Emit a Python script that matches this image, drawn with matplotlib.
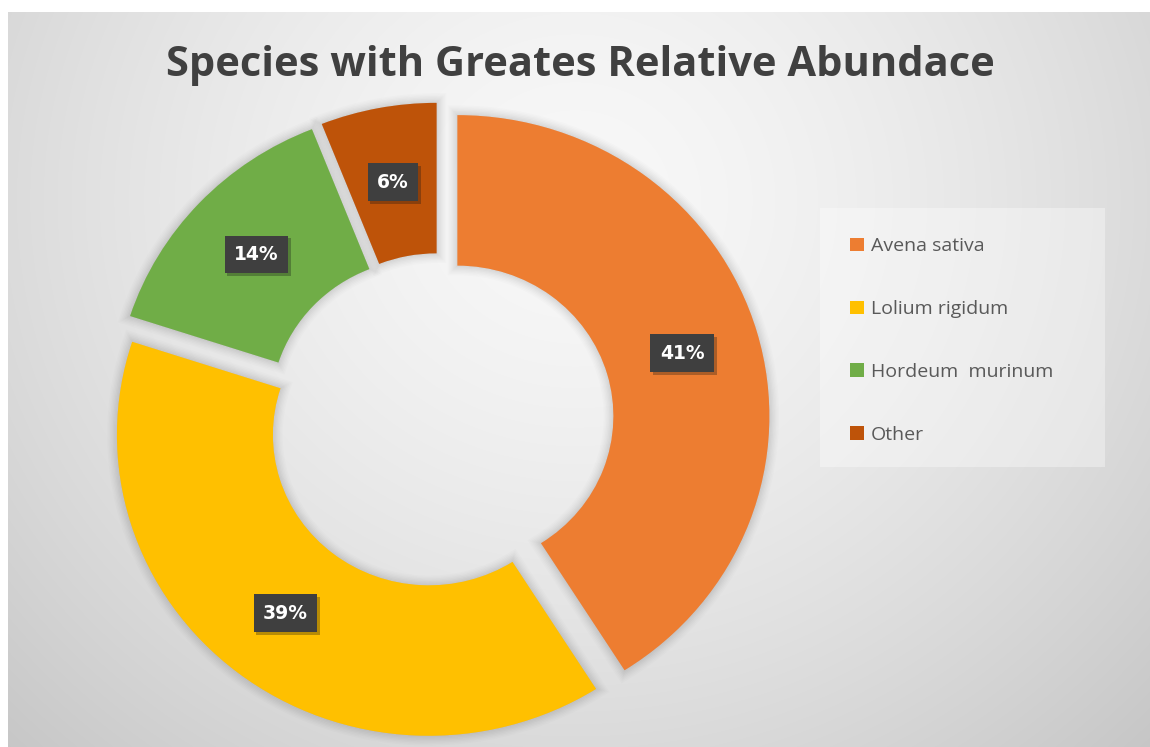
import numpy as np
import matplotlib
matplotlib.use("Agg")
import matplotlib.pyplot as plt
import matplotlib.patheffects as pe
from matplotlib.patches import Rectangle

# Data
species = ["Avena sativa", "Lolium rigidum", "Hordeum  murinum", "Other"]
abundance = [41, 39, 14, 6]
colors = ["#ED7D31", "#FFC000", "#70AD47", "#BE5309"]
title = "Species with Greates Relative Abundace"

W, H = 1150, 747
fig = plt.figure(figsize=(W / 100, H / 100), dpi=100, facecolor="white")

# Chart-area background: soft radial grey gradient
bg = fig.add_axes([8 / W, 0, 1 - 8 / W, 1 - 12 / H], zorder=0)
yy, xx = np.mgrid[12:H, 8:W]
r = np.sqrt(((xx - 575) / 800.0) ** 2 + ((yy - 200) / 750.0) ** 2)
v = (248 - 48 * r ** 1.5) / 255.0
bg.imshow(np.dstack([v, v, v]), aspect="auto", extent=(0, 1, 0, 1), interpolation="bilinear")
bg.set_axis_off()

# Donut axes (pixel scale: 312 px per unit horizontally, 301 vertically)
cx, cy = 440, H - 421
sx, sy = 312, 301
lim = 1.2
ax = fig.add_axes([(cx - lim * sx) / W, (cy - lim * sy) / H, 2 * lim * sx / W, 2 * lim * sy / H], zorder=1)
ax.patch.set_alpha(0)

# soft drop shadow around each ring segment
shadow = [pe.Stroke(linewidth=lw, foreground="#000000", alpha=a)
          for lw, a in [(14, 0.012), (12, 0.012), (10, 0.014), (8, 0.016),
                        (6, 0.018), (4, 0.02), (2, 0.02)]] + [pe.Normal()]

wedges, texts, autotexts = ax.pie(
    abundance, colors=colors, startangle=90, counterclock=False,
    explode=[0.058] * len(abundance), wedgeprops=dict(width=0.5, linewidth=0),
    autopct="%1.0f%%", pctdistance=0.75,
    textprops=dict(color="white", fontsize=13.5, fontweight="bold", family="DejaVu Sans"),
)
for w in wedges:
    w.set_path_effects(shadow)
for t in autotexts:
    t.set_bbox(dict(boxstyle="square,pad=0.5", facecolor="#3F3F3F", edgecolor="none"))
    t.get_bbox_patch().set_path_effects([pe.SimplePatchShadow(offset=(2, -2), alpha=0.3), pe.Normal()])
ax.set_aspect("auto")
ax.set_xlim(-lim, lim)
ax.set_ylim(-lim, lim)
ax.set_axis_off()

# Title
fig.text(580 / W, 1 - 66 / H, title, ha="center", va="center", fontsize=30,
         fontweight="bold", color="#404040", family="Open Sans")

# Legend panel
fig.patches.append(Rectangle((820 / W, 1 - 467 / H), 285 / W, 259 / H, transform=fig.transFigure,
                             facecolor="white", alpha=0.35, edgecolor="none", zorder=2))
leg = fig.legend(wedges, species, loc="upper left", bbox_to_anchor=(833 / W, 1 - 220 / H),
                 frameon=False, handlelength=0.68, handleheight=0.68,
                 handletextpad=0.35, labelspacing=2.3, prop=dict(family="Open Sans", size=14))
for t in leg.get_texts():
    t.set_color("#595959")
for h in leg.legend_handles:
    h.set_path_effects([])
leg.set_zorder(3)

fig.savefig("out.png", dpi=100, facecolor="white")
